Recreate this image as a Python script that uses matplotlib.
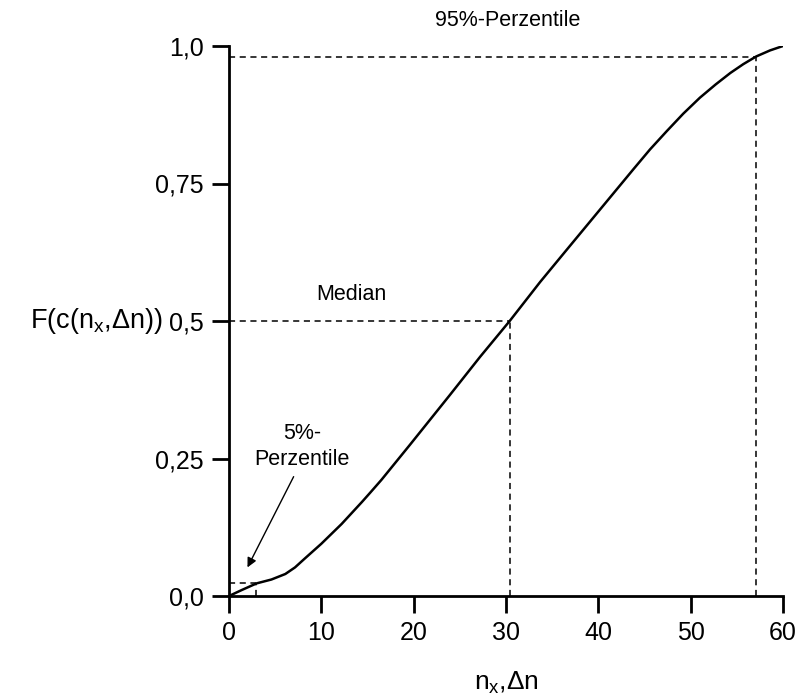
import matplotlib

matplotlib.use("Agg")
import matplotlib.pyplot as plt

# cumulative curve
curve_x = [0, 1.4, 3.0, 4.6, 6.1, 7.15, 8.2, 10.0, 12.2, 14.4, 15.3, 16.5,
           19.6, 23.9, 27.2, 30.4, 33.7, 36.6, 40.2, 43.8, 45.6, 47.4, 49.2,
           51.0, 52.7, 54.3, 55.7, 57.1, 58.6, 60]
curve_y = [0, 0.011, 0.023, 0.030, 0.040, 0.052, 0.068, 0.095, 0.131, 0.171,
           0.188, 0.211, 0.275, 0.365, 0.435, 0.5, 0.571, 0.63, 0.703, 0.776,
           0.812, 0.845, 0.877, 0.906, 0.930, 0.951, 0.967, 0.981, 0.992, 1.0]

# percentile markers (x, F)
p05 = (2.9, 0.024)
p50 = (30.4, 0.5)
p95 = (57.1, 0.98)

x_ticks = [0, 10, 20, 30, 40, 50, 60]
y_ticks = [0.0, 0.25, 0.5, 0.75, 1.0]
y_tick_labels = ["0,0", "0,25", "0,5", "0,75", "1,0"]

plt.rcParams["font.family"] = ["Liberation Sans", "DejaVu Sans"]
plt.rcParams["mathtext.default"] = "regular"

FS = 18
FS_NOTE = 15.5
W, H = 796, 700

fig = plt.figure(figsize=(W / 100, H / 100), dpi=100)
ax = fig.add_axes([229 / W, 1 - 596 / H, 554 / W, 550 / H])

ax.plot(curve_x, curve_y, color="black", lw=1.8, solid_joinstyle="round")

dash = dict(color="black", lw=1.1, ls=(0, (4, 3)))
for px, py in (p05, p50, p95):
    ax.plot([0, px], [py, py], **dash)
    ax.plot([px, px], [0, py], **dash)

ax.set_xlim(0, 60)
ax.set_ylim(0, 1.0)
ax.set_xticks(x_ticks)
ax.set_yticks(y_ticks)
ax.set_yticklabels(y_tick_labels)
ax.tick_params(axis="both", direction="out", length=12, width=2, pad=6,
               labelsize=FS)

for side in ("top", "right"):
    ax.spines[side].set_visible(False)
for side in ("left", "bottom"):
    ax.spines[side].set_linewidth(2)
ax.patch.set_visible(False)

ax.set_xlabel("n$_x$,Δn", fontsize=19)
ax.xaxis.set_label_coords(0.5, -0.135)
ax.set_ylabel("F(c(n$_x$,Δn))", fontsize=19.5, rotation=0, ha="right", va="center")
ax.yaxis.set_label_coords(-0.12, 0.5)

ax.text(30.2, 1.047, "95%-Perzentile", fontsize=FS_NOTE, ha="center", va="center")
ax.text(13.2, 0.548, "Median", fontsize=FS_NOTE, ha="center", va="center")
ax.text(7.9, 0.296, "5%-", fontsize=FS_NOTE, ha="center", va="center")
ax.text(7.9, 0.249, "Perzentile", fontsize=FS_NOTE, ha="center", va="center")
ax.annotate("", xy=(2.0, 0.052), xytext=(7.0, 0.217),
            arrowprops=dict(arrowstyle="-|>", color="black", lw=1.0,
                            mutation_scale=14, shrinkA=0, shrinkB=0))

fig.savefig("out.png", dpi=100)
